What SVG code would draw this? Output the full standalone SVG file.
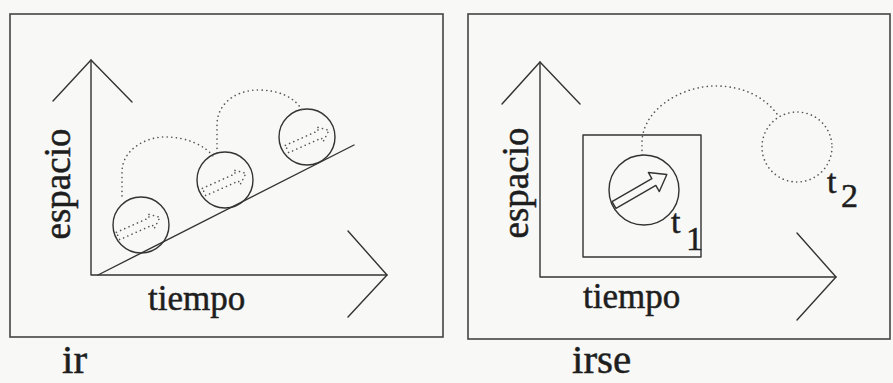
<svg xmlns="http://www.w3.org/2000/svg" width="893" height="383" viewBox="0 0 893 383">
<style>
.bg{fill:#f8f8f6}
.frame{fill:none;stroke:#444;stroke-width:1.6}
.ln{fill:none;stroke:#333;stroke-width:1.4;stroke-linecap:round;stroke-linejoin:round}
.dot{fill:none;stroke:#555;stroke-width:1.6;stroke-dasharray:0.1 4.5;stroke-linecap:round}
text{font-family:'Liberation Serif','Times New Roman','DejaVu Serif',serif;fill:#1e1e1e;stroke:#1e1e1e;stroke-width:0.5}
</style>
<defs>
<path id="arrowDot" d="M0,-4 L36,-4 L36,-8 L46,0 L36,8 L36,4 L0,4 Z"/>
</defs>
<rect class="bg" x="0" y="0" width="893" height="383"/>

<g id="panel-ir">
  <rect class="frame" x="10" y="14" width="433" height="323"/>
  <g id="axes-ir">
    <path class="ln" d="M91,60 L91,275 L387,275"/>
    <path class="ln" d="M53,101 L91,60 L132,102"/>
    <path class="ln" d="M348,231 L387,275 L348,317"/>
  </g>
  <g id="slope-ir">
    <path class="ln" d="M98,275 L354,145"/>
  </g>
  <g id="ball1">
    <circle class="ln" cx="141" cy="225" r="28"/>
    <use class="dot" href="#arrowDot" transform="translate(118,236) rotate(-24)"/>
  </g>
  <g id="ball2">
    <circle class="ln" cx="225" cy="180" r="28"/>
    <use class="dot" href="#arrowDot" transform="translate(204,192) rotate(-24)"/>
  </g>
  <g id="ball3">
    <circle class="ln" cx="307" cy="137" r="28"/>
    <use class="dot" href="#arrowDot" transform="translate(287,149) rotate(-24)"/>
  </g>
  <g id="jumps-ir">
    <path class="dot" d="M122,196 L122,172 C122,150 145,137 165,137 C188,137 205,146 213,156"/>
    <path class="dot" d="M217,153 L217,125 C217,102 238,90 258,90 C280,90 295,98 302,110"/>
  </g>
  <text font-family="Liberation Serif, serif" font-size="37" transform="translate(70,184) rotate(-90)" text-anchor="middle">espacio</text>
  <text font-family="Liberation Serif, serif" font-size="35" x="148" y="310">tiempo</text>
</g>
<text id="label-ir" font-family="Liberation Serif, serif" font-size="41" x="62" y="373">ir</text>

<g id="panel-irse">
  <rect class="frame" x="468" y="14" width="422" height="325"/>
  <g id="axes-irse">
    <path class="ln" d="M540,62 L540,277 L836,277"/>
    <path class="ln" d="M502,104 L540,62 L580,104"/>
    <path class="ln" d="M797,233 L836,277 L797,320"/>
  </g>
  <g id="frame-t1">
    <rect class="ln" x="583" y="135" width="118" height="122"/>
  </g>
  <g id="ball-t1">
    <circle class="ln" cx="644" cy="190" r="35"/>
    <path class="ln" d="M0,-4 L46,-4 L46,-11 L61,0 L46,11 L46,4 L0,4 Z" transform="translate(614,205) rotate(-30)"/>
  </g>
  <g id="jump-irse">
    <path class="dot" d="M642,155 L642,140 C645,106 685,86 715,86 C745,86 765,98 777,114"/>
  </g>
  <g id="ball-t2">
    <circle class="dot" cx="797" cy="147" r="35"/>
  </g>
  <text font-family="Liberation Serif, serif" font-size="34" x="671" y="233">t</text>
  <text font-family="Liberation Serif, serif" font-size="34" x="686" y="250">1</text>
  <text font-family="Liberation Serif, serif" font-size="34" x="827" y="193">t</text>
  <text font-family="Liberation Serif, serif" font-size="34" x="841" y="207">2</text>
  <text font-family="Liberation Serif, serif" font-size="37" transform="translate(528,183) rotate(-90)" text-anchor="middle">espacio</text>
  <text font-family="Liberation Serif, serif" font-size="35" x="583" y="308">tiempo</text>
</g>
<text id="label-irse" font-family="Liberation Serif, serif" font-size="41" x="572" y="373">irse</text>
</svg>
